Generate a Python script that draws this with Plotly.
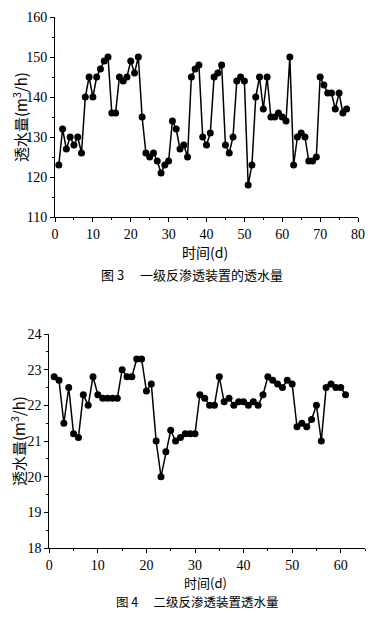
import plotly.graph_objects as go

# Page has default 8px body margin; figure sized so the page fits the 374x619 window.
PAGE_W, PAGE_H = 374, 619
OFF = 8
W, H = PAGE_W - 2 * OFF, PAGE_H - 2 * OFF

# Chart 1: 一级反渗透装置的透水量
days1 = list(range(1, 78))
flow1 = [123, 132, 127, 130, 128, 130, 126, 140, 145, 140, 145, 147, 149, 150,
         136, 136, 145, 144, 145, 149, 146, 150, 135, 126, 125, 126, 124, 121,
         123, 124, 134, 132, 127, 128, 125, 145, 147, 148, 130, 128, 131, 145,
         146, 148, 128, 126, 130, 144, 145, 144, 118, 123, 140, 145, 137, 145,
         135, 135, 136, 135, 134, 150, 123, 130, 131, 130, 124, 124, 125, 145,
         143, 141, 141, 137, 141, 136, 137]

# Chart 2: 二级反渗透装置透水量
days2 = list(range(1, 62))
flow2 = [22.8, 22.7, 21.5, 22.5, 21.2, 21.1, 22.3, 22.0, 22.8, 22.3,
         22.2, 22.2, 22.2, 22.2, 23.0, 22.8, 22.8, 23.3, 23.3, 22.4,
         22.6, 21.0, 20.0, 20.7, 21.3, 21.0, 21.1, 21.2, 21.2, 21.2,
         22.3, 22.2, 22.0, 22.0, 22.8, 22.1, 22.2, 22.0, 22.1, 22.1,
         22.0, 22.1, 22.0, 22.3, 22.8, 22.7, 22.6, 22.5, 22.7, 22.6,
         21.4, 21.5, 21.4, 21.6, 22.0, 21.0, 22.5, 22.6, 22.5, 22.5,
         22.3]

x_ticks1 = [0, 10, 20, 30, 40, 50, 60, 70, 80]
y_ticks1 = [110, 120, 130, 140, 150, 160]
x_ticks2 = [0, 10, 20, 30, 40, 50, 60]
y_ticks2 = [18, 19, 20, 21, 22, 23, 24]

y_title = "透水量(m<sup>3</sup>/h)"
x_title = "时间(d)"
cap1 = "图 3　 一级反渗透装置的透水量"
cap2 = "图 4　 二级反渗透装置透水量"

SERIF = "Liberation Serif, Times New Roman, serif"
CJK = "Noto Sans CJK SC, Liberation Serif"


def px(x):
    return (x - OFF) / W


def py(y):
    return 1 - (y - OFF) / H


fig = go.Figure()
line_style = dict(color="black", width=1.5)
marker_style = dict(color="black", size=7, symbol="circle")
fig.add_trace(go.Scatter(x=days1, y=flow1, mode="lines+markers", line=line_style,
                         marker=marker_style, xaxis="x", yaxis="y", showlegend=False))
fig.add_trace(go.Scatter(x=days2, y=flow2, mode="lines+markers", line=line_style,
                         marker=marker_style, xaxis="x2", yaxis="y2", showlegend=False))

common = dict(showgrid=False, zeroline=False, showline=True, linecolor="black", linewidth=1,
              ticks="outside", ticklen=4, tickcolor="black", tickwidth=1,
              tickfont=dict(family=SERIF, size=14, color="black"),
              automargin=False)

fig.update_layout(
    width=W, height=H, margin=dict(l=0, r=0, t=0, b=0),
    paper_bgcolor="white", plot_bgcolor="white",
    xaxis=dict(domain=[px(55), px(358)], range=[0, 80], tickvals=x_ticks1,
               anchor="y", minor=dict(ticks="outside", ticklen=2, dtick=5, tickcolor="black"),
               **common),
    yaxis=dict(domain=[py(217), py(17)], range=[110, 160], tickvals=y_ticks1,
               anchor="x", minor=dict(ticks="outside", ticklen=2, dtick=5, tickcolor="black"),
               **common),
    xaxis2=dict(domain=[px(49.3), px(365)], range=[0, 65], tickvals=x_ticks2,
                anchor="y2", minor=dict(ticks="outside", ticklen=2, dtick=5, tickcolor="black"),
                **common),
    yaxis2=dict(domain=[py(548), py(334)], range=[18, 24], tickvals=y_ticks2,
                anchor="x2", minor=dict(ticks="outside", ticklen=2, dtick=0.5, tickcolor="black"),
                **common),
)

ann = [
    dict(x=px(20), y=py(117), text=y_title, textangle=-90, font=dict(family=CJK, size=15, color="black")),
    dict(x=px(205), y=py(252), text=x_title, font=dict(family=CJK, size=14, color="black")),
    dict(x=px(192), y=py(274), text=cap1, font=dict(family=CJK, size=13, color="black")),
    dict(x=px(18), y=py(441), text=y_title, textangle=-90, font=dict(family=CJK, size=15, color="black")),
    dict(x=px(205), y=py(582), text=x_title, font=dict(family=CJK, size=13, color="black")),
    dict(x=px(197), y=py(601), text=cap2, font=dict(family=CJK, size=12.5, color="black")),
]
for a in ann:
    fig.add_annotation(xref="paper", yref="paper", showarrow=False,
                       xanchor="center", yanchor="middle", **a)

fig.write_html("out.html")
